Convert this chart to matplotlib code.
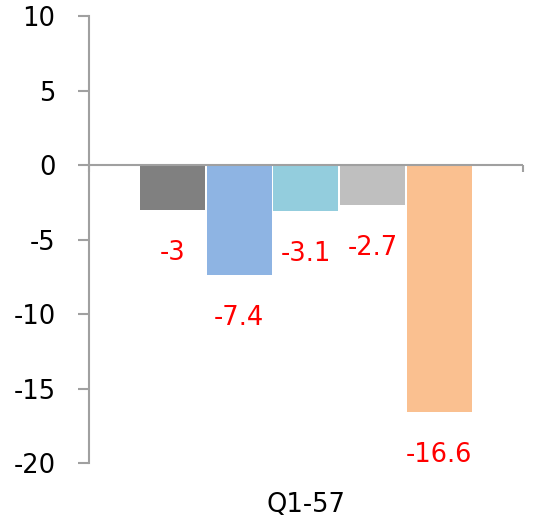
import numpy as np
import matplotlib.pyplot as plt
import matplotlib.transforms as mtransforms

# data
category = 'Q1-57'
values = [-3, -7.4, -3.1, -2.7, -16.6]
labels = ['-3', '-7.4', '-3.1', '-2.7', '-16.6']
colors = ['#808080', '#8EB4E3', '#93CDDD', '#BFBFBF', '#FAC090']
yticks = [-20, -15, -10, -5, 0, 5, 10]

fig = plt.figure(figsize=(5.39, 5.25), dpi=100)
ax = fig.add_axes([0.165, 0.118, 0.805, 0.8515])

width = 0.15
step = 0.1535
pos = (np.arange(len(values)) - 2) * step
ax.bar(pos, values, width=width, color=colors, edgecolor='none', zorder=2)

# value labels below each bar
for x, v, lab in zip(pos, values, labels):
    ax.annotate(lab, (x, v), xytext=(0, -31), textcoords='offset points',
                ha='center', va='center', color='#FF0000', fontsize=18.5)

ax.set_xlim(-0.5, 0.5)
ax.set_ylim(-20, 10)
ax.set_yticks(yticks)
ax.set_yticklabels([str(t) for t in yticks], fontsize=18.5)
ax.set_xticks([])

gray = '#A0A0A0'
for s in ['top', 'right', 'bottom']:
    ax.spines[s].set_visible(False)
ax.spines['left'].set_color(gray)
ax.spines['left'].set_linewidth(1.5)
ax.tick_params(axis='y', length=8, width=1.5, color=gray, pad=16)

# zero line with category boundary ticks
ax.axhline(0, color=gray, linewidth=1.5, zorder=3)
ax.vlines([-0.5, 0.5], -0.5, 0, colors=gray, linewidth=1.5, clip_on=False, zorder=3)

trans = mtransforms.blended_transform_factory(ax.transData, ax.transAxes)
ax.text(0, -0.094, category, transform=trans, ha='center', va='center', fontsize=18.5)

fig.savefig('out.png', dpi=100)
